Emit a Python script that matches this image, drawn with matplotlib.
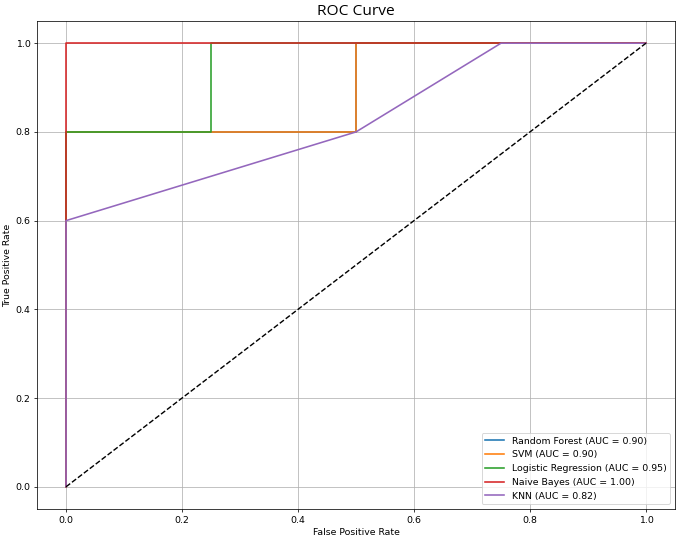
import matplotlib
matplotlib.use("Agg")
import matplotlib.pyplot as plt

# ROC points per model (fpr, tpr) and AUC
rf_fpr = [0.0, 0.0, 0.5, 0.5, 1.0]
rf_tpr = [0.0, 0.8, 0.8, 1.0, 1.0]
svm_fpr = [0.0, 0.0, 0.5, 0.5, 1.0]
svm_tpr = [0.0, 0.8, 0.8, 1.0, 1.0]
lr_fpr = [0.0, 0.0, 0.25, 0.25, 1.0]
lr_tpr = [0.0, 0.8, 0.8, 1.0, 1.0]
nb_fpr = [0.0, 0.0, 1.0]
nb_tpr = [0.0, 1.0, 1.0]
knn_fpr = [0.0, 0.0, 0.5, 0.75, 1.0]
knn_tpr = [0.0, 0.6, 0.8, 1.0, 1.0]

names = ["Random Forest", "SVM", "Logistic Regression", "Naive Bayes", "KNN"]
aucs = [0.90, 0.90, 0.95, 1.00, 0.82]


def main():
    fig = plt.figure(figsize=(10, 539 / 67.7), dpi=67.7)
    ax = fig.add_subplot(1, 1, 1)
    fig.subplots_adjust(left=0.0547, right=0.997, top=0.961, bottom=0.0557)

    curves = [(rf_fpr, rf_tpr), (svm_fpr, svm_tpr), (lr_fpr, lr_tpr),
              (nb_fpr, nb_tpr), (knn_fpr, knn_tpr)]
    for (fpr, tpr), name, auc in zip(curves, names, aucs):
        ax.plot(fpr, tpr, linewidth=1.7, label=f"{name} (AUC = {auc:.2f})")

    ax.plot([0, 1], [0, 1], "k--")
    ax.set_xlabel("False Positive Rate")
    ax.set_ylabel("True Positive Rate")
    ax.set_title("ROC Curve", family="Open Sans", fontsize=16.5)
    ax.legend(loc="lower right")
    ax.grid(True)

    fig.savefig("out.png", dpi=67.7)


if __name__ == "__main__":
    main()
